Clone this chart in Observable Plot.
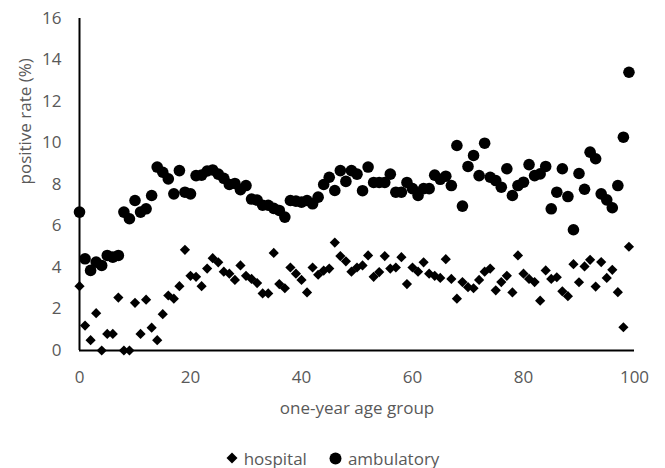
<!DOCTYPE html>
<html>
<head>
<meta charset="utf-8">
<script src="https://cdn.jsdelivr.net/npm/d3@7"></script>
<script src="https://cdn.jsdelivr.net/npm/@observablehq/plot@0.6"></script>
<style>
  html, body { margin: 0; padding: 0; background: #fff; }
  #chart svg { display: block; }
  .legend { display: flex; justify-content: center; align-items: center; gap: 22px;
    font-family: "Open Sans", sans-serif; font-size: 17px; color: #595959; height: 38px; margin-top: 9px; }
  .legend span { display: flex; align-items: center; gap: 6px; }
</style>
</head>
<body>
<div id="chart"></div>
<script>
const ages = d3.range(0, 100);
const hospital = [3.1,1.2,0.5,1.8,0,0.8,0.8,2.55,0,0,
  2.3,0.8,2.45,1.1,0.5,1.75,2.65,2.5,3.1,4.85,
  3.6,3.55,3.1,3.95,4.45,4.25,3.8,3.7,3.4,4.1,
  3.6,3.45,3.25,2.75,2.75,4.7,3.2,3.0,4.0,3.7,
  3.4,2.8,4.0,3.65,3.85,3.95,5.2,4.55,4.3,3.8,
  4.0,4.1,4.58,3.55,3.78,4.55,3.95,4.0,4.5,3.2,
  4.0,3.8,4.25,3.7,3.6,3.5,4.4,3.45,2.5,3.3,
  3.05,3.0,3.4,3.8,3.95,2.9,3.3,3.6,2.8,4.58,
  3.7,3.45,3.3,2.4,3.86,3.45,3.53,2.85,2.62,4.16,
  3.29,4.05,4.37,3.08,4.26,3.5,3.89,2.81,1.12,5.0];
const ambulatory = [6.67,4.42,3.86,4.26,4.1,4.58,4.5,4.58,6.67,6.35,
  7.23,6.67,6.83,7.47,8.84,8.59,8.27,7.55,8.67,7.63,
  7.55,8.43,8.45,8.65,8.7,8.5,8.3,8.0,8.05,7.75,
  7.95,7.3,7.25,7.0,7.0,6.85,6.75,6.43,7.23,7.2,
  7.15,7.23,7.07,7.39,8.0,8.35,7.71,8.67,8.15,8.67,
  8.5,7.7,8.84,8.1,8.1,8.1,8.5,7.63,7.63,8.1,
  7.8,7.47,7.8,7.8,8.45,8.25,8.4,7.95,9.88,6.96,
  8.87,9.4,8.43,9.99,8.35,8.19,7.87,8.76,7.47,7.95,
  8.11,8.96,8.43,8.51,8.87,6.83,7.63,8.76,7.42,5.82,
  8.53,7.77,9.56,9.24,7.55,7.26,6.88,7.95,10.28,13.41];
const xTicks = [0, 20, 40, 60, 80, 100];
const yTicks = [0, 2, 4, 6, 8, 10, 12, 14, 16];
const seriesNames = ["hospital", "ambulatory"];
const xTitle = "one-year age group";
const yTitle = "positive rate (%)";

const hospData = ages.map((a, i) => ({age: a, rate: hospital[i]}));
const ambData = ages.map((a, i) => ({age: a, rate: ambulatory[i]}));

const chart = Plot.plot({
  width: 665,
  height: 430,
  marginLeft: 79,
  marginRight: 31,
  marginTop: 18,
  marginBottom: 80,
  style: {fontFamily: "Open Sans, sans-serif", fontSize: "17px", color: "#595959", background: "#fff"},
  x: {domain: [0, 100]},
  y: {domain: [0, 16]},
  marks: [
    Plot.axisX({ticks: xTicks, tickSize: 0, tickPadding: 20, label: null, fill: "#595959"}),
    Plot.axisY({ticks: yTicks, tickSize: 0, tickPadding: 18, label: null, fill: "#595959"}),
    Plot.text([xTitle], {frameAnchor: "bottom", dy: 63, fill: "#595959", fontSize: 17}),
    Plot.text([yTitle], {frameAnchor: "left", dx: -54, rotate: -90, fill: "#595959", fontSize: 17}),
    Plot.ruleY([0], {stroke: "#000", strokeWidth: 2}),
    Plot.ruleX([0], {stroke: "#000", strokeWidth: 2}),
    Plot.dot(hospData, {x: "age", y: "rate", symbol: "diamond2", r: 4.6, fill: "#000", stroke: "none"}),
    Plot.dot(ambData, {x: "age", y: "rate", symbol: "circle", r: 5.8, fill: "#000", stroke: "none"})
  ]
});
document.getElementById("chart").appendChild(chart);

const legend = document.createElement("div");
legend.className = "legend";
legend.innerHTML =
  `<span><svg width="12" height="12"><path d="M6,0.5L11.5,6L6,11.5L0.5,6Z" fill="#000"/></svg>${seriesNames[0]}</span>` +
  `<span><svg width="13" height="13"><circle cx="6.5" cy="6.5" r="6" fill="#000"/></svg>${seriesNames[1]}</span>`;
document.body.appendChild(legend);
</script>
</body>
</html>
